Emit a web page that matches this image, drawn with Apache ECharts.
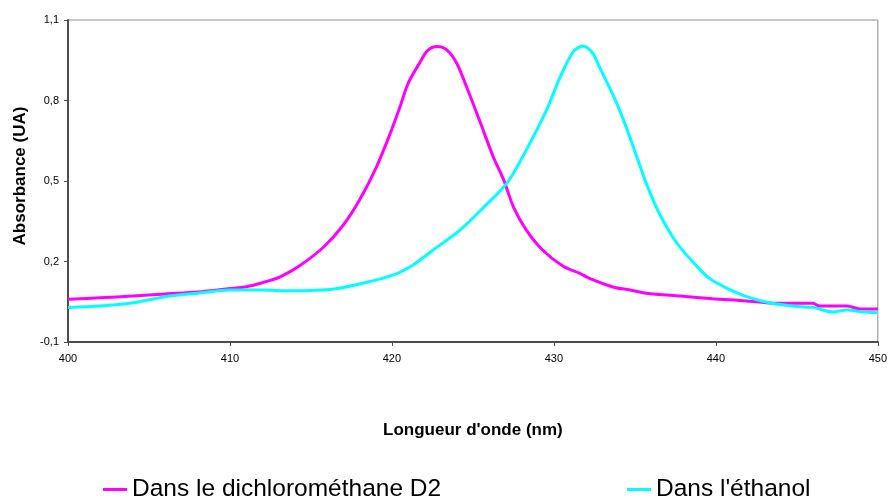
<!DOCTYPE html>
<html>
<head>
<meta charset="utf-8">
<script src="https://cdn.jsdelivr.net/npm/echarts@6/dist/echarts.min.js"></script>
<style>html,body{margin:0;padding:0;background:#fff;}#c{width:890px;height:499px;}</style>
</head>
<body>
<div id="c"></div>
<script>
const seriesNames = ["Dans le dichlorométhane D2", "Dans l'éthanol"];
const xAxisTitle = "Longueur d'onde (nm)";
const yAxisTitle = "Absorbance (UA)";

const dcmX = [400, 402, 404, 406, 408, 410, 411, 412, 413.1, 414.3, 415.8, 417.0, 418.0, 419.05, 419.9, 420.5, 421.0, 421.7, 422.2, 422.8, 423.4, 424.0, 424.6, 425.4, 426.25, 426.9, 427.5, 428.3, 429.3, 430.6, 431.6, 432.2, 433.7, 434.7, 435.7, 437.8, 439.8, 441.9, 443.1, 444.0, 446.0, 446.4, 448.1, 448.9, 450];
const dcmY = [0.059, 0.065, 0.071, 0.079, 0.086, 0.099, 0.106, 0.121, 0.143, 0.184, 0.255, 0.336, 0.429, 0.553, 0.678, 0.777, 0.864, 0.939, 0.986, 1.001, 0.988, 0.939, 0.852, 0.727, 0.591, 0.504, 0.404, 0.317, 0.243, 0.181, 0.156, 0.137, 0.104, 0.094, 0.082, 0.071, 0.061, 0.053, 0.046, 0.044, 0.044, 0.034, 0.034, 0.023, 0.023];

const ethX = [400, 402, 404, 406, 408, 410, 412, 413.1, 416.2, 418.2, 420.1, 421.3, 422.55, 424.2, 425.6, 427.1, 428.3, 429.55, 430.4, 431.2, 431.8, 432.4, 432.8, 433.7, 434.3, 434.9, 435.7, 436.5, 437.6, 438.8, 439.6, 440.7, 441.9, 443.3, 445.0, 446.0, 447.2, 448.1, 449.0, 450];
const ethY = [0.029, 0.034, 0.046, 0.069, 0.082, 0.094, 0.094, 0.091, 0.096, 0.119, 0.150, 0.187, 0.243, 0.317, 0.398, 0.492, 0.616, 0.765, 0.889, 0.982, 1.003, 0.976, 0.926, 0.814, 0.727, 0.628, 0.492, 0.380, 0.268, 0.184, 0.137, 0.100, 0.069, 0.046, 0.032, 0.029, 0.012, 0.019, 0.013, 0.009];

const FONT = "'Liberation Sans', Arial, sans-serif";
const pairs = (xs, ys) => xs.map((x, i) => [x, ys[i]]);

const chart = echarts.init(document.getElementById('c'), null, {renderer: 'canvas'});
chart.setOption({
  animation: false,
  backgroundColor: '#ffffff',
  textStyle: {fontFamily: FONT},
  grid: {left: 68, right: 11, top: 20, bottom: 157, show: true, borderColor: '#8c8c8c', borderWidth: 1, backgroundColor: 'transparent'},
  legend: [
    {data: [seriesNames[0]], left: 103, top: 477, padding: 0, itemWidth: 24, itemHeight: 3, icon: 'rect',
     textStyle: {fontFamily: FONT, fontSize: 24.5, color: '#000'}},
    {data: [seriesNames[1]], left: 627, top: 477, padding: 0, itemWidth: 24, itemHeight: 3, icon: 'rect',
     textStyle: {fontFamily: FONT, fontSize: 24.5, color: '#000'}}
  ],
  xAxis: {
    type: 'value', min: 400, max: 450, interval: 10,
    name: xAxisTitle, nameLocation: 'middle', nameGap: 80,
    nameTextStyle: {fontFamily: FONT, fontSize: 17, fontWeight: 'bold', color: '#000'},
    axisLine: {show: true, onZero: false, lineStyle: {color: '#4d4d4d', width: 2}},
    axisTick: {show: true, length: 4, lineStyle: {color: '#4d4d4d', width: 1}},
    axisLabel: {fontFamily: FONT, fontSize: 11, color: '#000', margin: 11},
    splitLine: {show: false}
  },
  yAxis: {
    type: 'value', min: -0.1, max: 1.1, interval: 0.3,
    name: yAxisTitle, nameLocation: 'middle', nameGap: 38, nameRotate: 90,
    nameTextStyle: {fontFamily: FONT, fontSize: 17, fontWeight: 'bold', color: '#000', padding: [0, 0, 0, 10]},
    axisLine: {show: true, onZero: false, lineStyle: {color: '#4d4d4d', width: 2}},
    axisTick: {show: true, length: 4, lineStyle: {color: '#4d4d4d', width: 1}},
    axisLabel: {fontFamily: FONT, fontSize: 11, color: '#000', margin: 9,
      formatter: v => (Math.round(v * 10) / 10).toFixed(1).replace('.', ',')},
    splitLine: {show: false}
  },
  series: [
    {name: seriesNames[0], type: 'line', data: pairs(dcmX, dcmY), showSymbol: false, symbol: 'none',
     smooth: 0.3, lineStyle: {color: '#ff00ff', width: 3}, itemStyle: {color: '#ff00ff'}},
    {name: seriesNames[1], type: 'line', data: pairs(ethX, ethY), showSymbol: false, symbol: 'none',
     smooth: 0.3, lineStyle: {color: '#00ffff', width: 3}, itemStyle: {color: '#00ffff'}}
  ]
});
</script>
</body>
</html>
